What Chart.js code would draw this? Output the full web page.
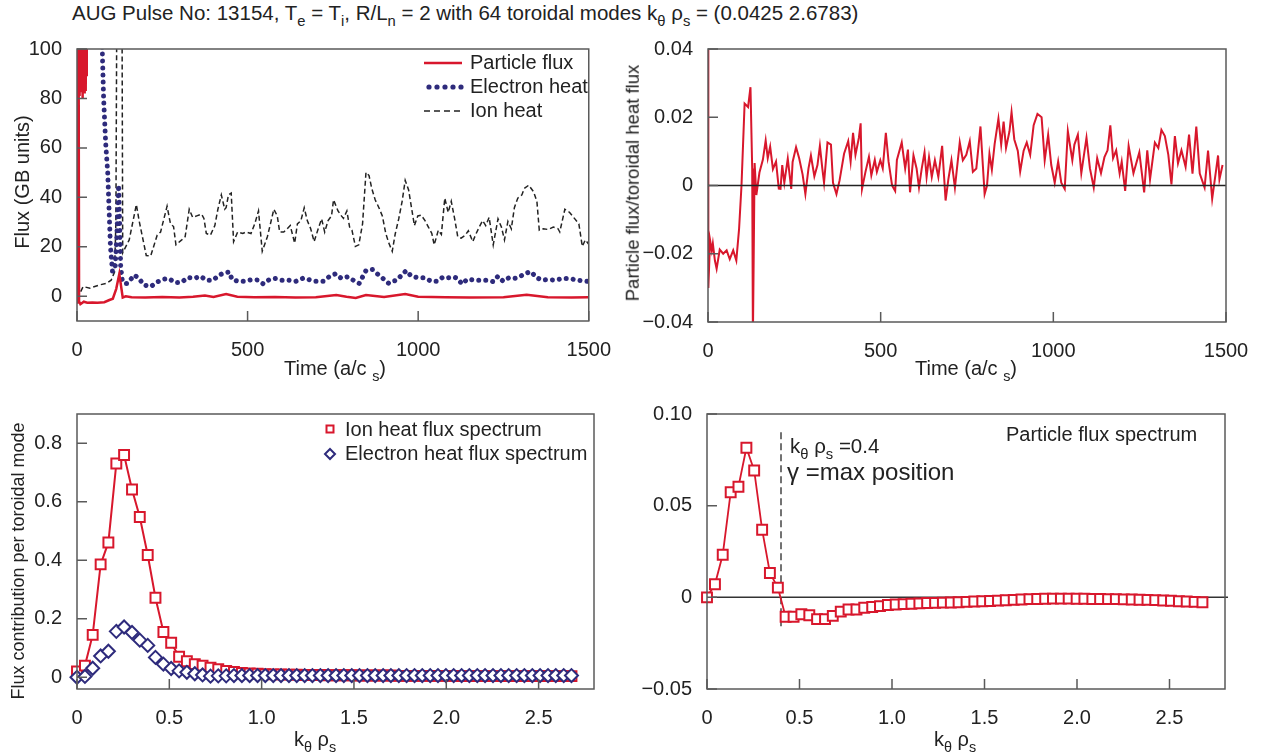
<!DOCTYPE html>
<html>
<head>
<meta charset="utf-8">
<script src="https://cdn.jsdelivr.net/npm/chart.js"></script>
<style>
  body { margin: 0; width: 1266px; height: 755px; position: relative; overflow: hidden; background: #fff;
         font-family: "Liberation Sans", Arial, sans-serif; color: #222; }
  canvas { position: absolute; }
  .lbl { position: absolute; white-space: nowrap; font-size: 20px; line-height: 1; }
  .xt { transform: translateX(-50%); }
  .yt { transform: translate(-50%, -50%) rotate(-90deg); }
  sub { font-size: 0.72em; vertical-align: -0.4em; line-height: 0; }
</style>
</head>
<body>
<div class="lbl" style="left:72px;top:3px;font-size:20.5px">AUG Pulse No: 13154, T<sub>e</sub> = T<sub>i</sub>, R/L<sub>n</sub> = 2 with 64 toroidal modes k<sub>θ</sub> ρ<sub>s</sub> = (0.0425 2.6783)</div>

<canvas id="cFlux" width="620" height="370" style="left:0;top:30px"></canvas>
<canvas id="cRatio" width="636" height="370" style="left:630px;top:30px"></canvas>
<canvas id="cHeat" width="620" height="360" style="left:0;top:395px"></canvas>
<canvas id="cPart" width="636" height="360" style="left:630px;top:395px"></canvas>

<div class="lbl yt" style="left:22px;top:182px">Flux (GB units)</div>
<div class="lbl xt" style="left:335px;top:358px">Time (a/c <sub>s</sub>)</div>
<div class="lbl yt" style="left:633px;top:183px;font-size:18.5px">Particle flux/toroidal heat flux</div>
<div class="lbl xt" style="left:966px;top:358px">Time (a/c <sub>s</sub>)</div>
<div class="lbl yt" style="left:18px;top:561px;font-size:18px">Flux contribution per toroidal mode</div>
<div class="lbl xt" style="left:315px;top:729px">k<sub>θ</sub> ρ<sub>s</sub></div>
<div class="lbl xt" style="left:955px;top:729px">k<sub>θ</sub> ρ<sub>s</sub></div>

<div class="lbl" style="left:790px;top:436px;font-size:20.5px">k<sub>θ</sub> ρ<sub>s</sub> =0.4</div>
<div class="lbl" style="left:787px;top:460px;font-size:24px">γ =max position</div>
<div class="lbl" style="left:1006px;top:424px;font-size:20px">Particle flux spectrum</div>

<script>
// ---- time traces (top left) ----
const pfTime = [0, 2, 3, 4, 5, 6, 7, 8, 9, 10, 11, 12, 13, 14, 15, 16, 17, 18, 19, 20, 21, 22, 23, 24, 25, 26, 27, 28, 29,
  5, 6, 10, 20, 30, 45, 60, 80, 95, 105, 115, 124, 134, 143,
  160, 200, 250, 300, 340, 375, 400, 437, 470, 520, 580, 640, 700, 760, 790, 817, 847, 900, 962, 1000, 1080, 1150, 1250, 1318, 1380, 1450, 1500];
const pfVal = [-1, -3, 130, 82, 150, 85, 140, 81, 125, 86, 145, 83, 135, 88, 150, 80, 120, 84, 140, 86, 130, 82, 145, 87, 125, 83, 135, 89, 115,
  82, -2, -3.2, -2.2, -2.6, -2.5, -2.6, -2.4, -1.5, -1.0, 3, 9, -0.5, 0,
  -0.4, -0.5, -0.3, -0.5, -0.2, 0.3, -0.3, 0.9, -0.2, -0.4, -0.3, -0.5, -0.4, 0.5, -0.2, -0.7, 0.5, -0.3, 0.9, -0.2, -0.4, -0.5, -0.4, 0.6, -0.4, -0.5, -0.4];

const ehTime = [60, 74, 78, 84, 90, 94, 98, 104, 112, 117, 122, 125, 128, 133, 139, 148, 168, 182, 195, 216,
  237, 254, 269, 288, 306, 325, 343, 362, 379, 399, 416, 431, 447, 454, 471, 491, 514, 529, 546, 564,
  582, 601, 620, 642, 664, 685, 700, 722, 738, 758, 775, 794, 810, 827, 847, 866, 880, 897, 914, 927,
  938, 951, 965, 980, 999, 1018, 1038, 1057, 1073, 1088, 1104, 1116, 1128, 1145, 1165, 1184, 1203, 1220, 1234, 1249,
  1266, 1280, 1293, 1312, 1330, 1348, 1365, 1381, 1402, 1423, 1444, 1465, 1490, 1500];
const ehVal = [200, 100, 80, 62, 50, 35, 20, 10, 12, 25, 45, 30, 12, 6, 5.2, 5.2, 8.6, 7.2, 4.6, 3.9,
  5.9, 6.9, 7.2, 5.5, 5.6, 7.6, 7.2, 8.1, 6.5, 6.5, 8.5, 9.5, 9.8, 6.8, 6.1, 6.1, 6.8, 6.6, 5.0, 6.8,
  7.2, 6.5, 6.5, 6.1, 7.4, 6.5, 6.1, 6.1, 7.8, 9.1, 7.2, 7.9, 6.5, 5.2, 10.4, 10.8, 9.1, 7.2, 5.2, 6.1,
  6.5, 8.5, 10.4, 8.1, 7.5, 7.5, 6.1, 6.1, 7.8, 7.5, 7.8, 7.2, 5.0, 7.0, 6.5, 6.5, 6.5, 5.9, 8.1, 6.1,
  7.5, 7.2, 7.5, 9.1, 10.0, 7.4, 6.5, 6.8, 6.5, 7.2, 7.2, 6.5, 6.1, 6.0];

const ihTime = [0, 4, 18, 38, 66, 86, 100, 110, 114, 118, 131, 134, 153, 174, 182, 203, 216, 235, 245, 264,
  274, 283, 290, 307, 317, 329, 339, 351, 365, 372, 379, 391, 404, 413, 423, 433, 437, 444, 452, 459,
  471, 486, 495, 510, 521, 532, 543, 558, 567, 577, 587, 594, 606, 616, 625, 638, 646, 656, 666, 675,
  685, 695, 707, 717, 726, 736, 746, 752, 765, 775, 781, 791, 799, 806, 816, 826, 837, 847, 856, 864,
  874, 885, 895, 905, 914, 924, 933, 943, 953, 962, 972, 982, 989, 999, 1009, 1020, 1030, 1040, 1047, 1059,
  1068, 1078, 1088, 1097, 1107, 1116, 1126, 1138, 1147, 1160, 1170, 1179, 1189, 1198, 1208, 1220, 1234, 1244, 1253, 1263,
  1273, 1282, 1292, 1304, 1311, 1324, 1338, 1348, 1355, 1367, 1381, 1396, 1410, 1415, 1430, 1444, 1458, 1471, 1481, 1490, 1500];
const ihVal = [-1, 0, 3.9, 3.3, 4.6, 5.2, 6.5, 9.8, 30, 160, 160, 17.6, 22.8, 37.1, 30.6, 16.5, 16.3, 24.7, 26, 36.4,
  29.3, 28.2, 20.8, 22.8, 24.1, 35.2, 31.9, 32.5, 33.2, 31.5, 25.4, 24.7, 28.6, 35.2, 41, 35.2, 35.8, 41, 41.7, 22.1,
  26, 25.4, 26, 25.4, 29.3, 34.5, 18.2, 24.1, 29.3, 35.2, 32.5, 26, 26, 27.3, 28.6, 21.5, 29.3, 30.5, 35.8, 30.6,
  27.3, 22.1, 27.3, 31.3, 26, 30.6, 32.5, 39, 34.5, 32.5, 31.5, 34.5, 28, 26.7, 20.2, 20.8, 29.3, 50.1, 48.8, 43.6,
  39, 35.8, 32.5, 25.4, 21.5, 18.2, 25.4, 31.3, 38.4, 46.9, 43, 34.5, 28.6, 32.5, 32.8, 30.6, 28, 25.4, 20.8, 26.7,
  25, 39.7, 33.9, 38.4, 31.3, 24.1, 23.5, 24.7, 26.5, 22.1, 25.4, 28, 30.6, 28.6, 31.9, 20.8, 31.3, 28, 22.8, 30.3,
  27.3, 35.8, 39.7, 41, 43.6, 44.9, 42.3, 38.4, 26.7, 27.3, 27, 28, 27.3, 26, 35.2, 33.9, 31.5, 29.3, 20.2, 22.8, 21];

// ---- particle flux / toroidal heat flux (top right) ----
const ratioTime = [0, 1, 6, 11, 14, 20, 25, 34, 44, 54, 63, 73, 82, 90, 97, 106, 116, 123, 128, 130,
  135, 140, 149, 159, 167, 173, 180, 188, 197, 205, 210, 215, 221, 231, 241, 245, 255, 264, 274, 282,
  291, 298, 308, 317, 324, 331, 336, 346, 356, 362, 372, 381, 394, 406, 413, 420, 427, 437, 442, 446,
  456, 466, 473, 483, 489, 499, 506, 515, 523, 533, 542, 547, 561, 571, 579, 585, 595, 604, 611, 619,
  627, 633, 640, 648, 657, 667, 678, 688, 696, 705, 715, 729, 738, 748, 758, 767, 777, 789, 801, 808,
  815, 822, 830, 841, 849, 856, 863, 873, 879, 887, 897, 904, 914, 923, 933, 943, 954, 966, 975, 985,
  994, 1004, 1014, 1023, 1033, 1042, 1055, 1061, 1071, 1081, 1096, 1106, 1117, 1127, 1138, 1148, 1157, 1165, 1173, 1182,
  1192, 1198, 1208, 1218, 1232, 1249, 1263, 1272, 1280, 1294, 1304, 1313, 1323, 1333, 1342, 1352, 1361, 1371, 1383, 1393,
  1403, 1414, 1424, 1438, 1448, 1460, 1472, 1477, 1481, 1490];
const ratioVal = [0.04, -0.03, -0.016, -0.019, -0.017, -0.022, -0.0244, -0.0188, -0.020, -0.019,
  -0.0216, -0.019, -0.022, -0.0127, 0, 0.024, 0.023, 0.0288, 0.005, -0.045,
  0.0066, -0.0028, 0.0038, 0.0076, 0.0132, 0.008, 0.0114, 0.0048, 0.007, -0.0009,
  -0.001, 0.006, 0.0008, 0.0079, -0.001, 0.0069, 0.0112, 0.008, 0.0032, -0.0025,
  0.005, 0.0088, 0.0027, 0.006, 0.0116, 0.005, 0.0008, 0.0126, 0.012, 0.0008,
  -0.0025, 0.0015, 0.0093, 0.013, 0.007, 0.0154, 0.009, 0.014, 0.0182, -0.001,
  0.004, 0.0084, 0.003, 0.0075, 0.004, 0.0074, 0.005, 0.0154, 0.0069, 0,
  -0.0016, 0.0075, 0.0126, 0.005, 0.0105, -0.002, 0.0088, 0.005, -0.0006, 0.005,
  0.0097, 0.0025, 0.0083, 0.0025, 0.0074, 0.0025, 0.0116, -0.0044, 0.0018, 0.0074,
  -0.0006, 0.0126, 0.0074, 0.009, 0.013, 0.004, 0.005, 0.0173, -0.0025, 0,
  0.0093, 0.0046, 0.0121, 0.0196, 0.012, 0.0187, 0.011, 0.0159, 0.0215, 0.0135,
  0.0102, 0.0041, 0.0102, 0.0126, 0.009, 0.0177, 0.021, 0.02, 0.0074, 0.0149,
  0.006, 0.0008, 0.007, 0.0008, -0.001, 0.0159, 0.0074, 0.012, 0.0149, 0.0036,
  0.014, 0.005, -0.0006, 0.008, 0.0036, 0.0083, 0.0103, 0.0176, 0.008, 0.0103,
  0.0035, 0.007, -0.0016, 0.0116, 0.0036, 0.0097, -0.002, 0.0103, 0.0018, 0.0126,
  0.011, 0.0163, 0.0145, 0.009, 0.0003, 0.0145, 0.0065, 0.0103, 0.0055, 0.0149,
  0.0035, 0.0173, 0.0035, -0.0006, 0.0102, -0.0039, 0.005, 0.0088, 0.0018, 0.006];

// ---- spectra over the 64 toroidal modes (bottom) ----
const kRho = [0, 0.043, 0.085, 0.128, 0.170, 0.213, 0.255, 0.298, 0.340, 0.383,
  0.425, 0.468, 0.510, 0.553, 0.595, 0.638, 0.680, 0.723, 0.765, 0.808,
  0.850, 0.893, 0.935, 0.978, 1.020, 1.063, 1.105, 1.148, 1.190, 1.233,
  1.275, 1.318, 1.360, 1.403, 1.445, 1.488, 1.530, 1.573, 1.615, 1.658,
  1.700, 1.743, 1.785, 1.828, 1.870, 1.913, 1.955, 1.998, 2.040, 2.083,
  2.125, 2.168, 2.210, 2.253, 2.296, 2.338, 2.381, 2.423, 2.466, 2.508,
  2.551, 2.593, 2.636, 2.678];
const ionSpec = [0.02, 0.04, 0.145, 0.386, 0.461, 0.731, 0.760, 0.642, 0.548, 0.418,
  0.272, 0.155, 0.118, 0.070, 0.055, 0.045, 0.040, 0.033, 0.028, 0.022,
  0.018, 0.015, 0.013, 0.012, 0.011, 0.010, 0.010, 0.009, 0.009, 0.008,
  0.008, 0.008, 0.007, 0.007, 0.007, 0.007, 0.006, 0.006, 0.006, 0.006,
  0.006, 0.005, 0.005, 0.005, 0.005, 0.005, 0.005, 0.005, 0.005, 0.004,
  0.004, 0.004, 0.004, 0.004, 0.004, 0.004, 0.004, 0.004, 0.004, 0.004,
  0.004, 0.004, 0.004, 0.004];
const elecSpec = [0.0, 0.003, 0.031, 0.073, 0.089, 0.157, 0.172, 0.153, 0.127, 0.109,
  0.068, 0.045, 0.030, 0.022, 0.017, 0.012, 0.008, 0.004, 0.005, 0.005,
  0.006, 0.006, 0.006, 0.006, 0.006, 0.006, 0.006, 0.006, 0.006, 0.006,
  0.006, 0.006, 0.006, 0.006, 0.006, 0.006, 0.006, 0.006, 0.006, 0.006,
  0.006, 0.006, 0.006, 0.006, 0.006, 0.006, 0.006, 0.006, 0.006, 0.006,
  0.006, 0.006, 0.006, 0.006, 0.006, 0.006, 0.006, 0.006, 0.006, 0.006,
  0.006, 0.006, 0.006, 0.006];
const partSpec = [0.000, 0.0071, 0.0232, 0.0573, 0.0603, 0.0816, 0.0692, 0.0369, 0.0133, 0.0053,
  -0.0106, -0.0106, -0.0092, -0.0098, -0.0119, -0.0119, -0.0101, -0.0078, -0.0066, -0.0066,
  -0.0057, -0.0053, -0.0048, -0.0042, -0.0039, -0.0037, -0.0035, -0.0033, -0.0031, -0.0030,
  -0.0029, -0.0028, -0.0027, -0.0025, -0.0023, -0.0021, -0.0020, -0.0018, -0.0016, -0.0014,
  -0.0012, -0.0010, -0.0009, -0.0008, -0.0007, -0.0007, -0.0007, -0.0008, -0.0008, -0.0009,
  -0.0009, -0.0010, -0.0010, -0.0011, -0.0012, -0.0013, -0.0014, -0.0015, -0.0017, -0.0019,
  -0.0021, -0.0023, -0.0025, -0.0027];
const gammaMaxK = 0.4;
const gammaMarkSpan = [-0.018, 0.09];

// ---- tick positions ----
const timeTicks = [0, 500, 1000, 1500];
const fluxTicks = [0, 20, 40, 60, 80, 100];
const ratioTicks = [-0.04, -0.02, 0, 0.02, 0.04];
const kTicks = [0, 0.5, 1.0, 1.5, 2.0, 2.5];
const heatTicks = [0, 0.2, 0.4, 0.6, 0.8];
const partTicks = [-0.05, 0, 0.05, 0.10];

const FONT = '"Liberation Sans", Arial, sans-serif';
const RED = '#d8172c', NAVY = '#2e2b7c', INK = '#222';

const pts = (xs, ys) => xs.map((x, i) => ({ x, y: ys[i] }));
const minus = s => s.replace('-', '\u2212');

function axis(min, max, ticks, size, fmt, isX) {
  return {
    type: 'linear', min, max,
    afterBuildTicks: s => { s.ticks = ticks.map(v => ({ value: v })); },
    afterFit: s => { if (isX) s.height = size; else s.width = size; },
    grid: { display: false },
    border: { display: false },
    ticks: { padding: isX ? 9 : 7, color: INK, font: { family: FONT, size: 20 },
             maxRotation: 0, autoSkip: false, callback: fmt }
  };
}

// frame, inward ticks, zero line and legend drawn by hand
const frame = {
  id: 'frame',
  beforeDatasetsDraw(chart, args, o) {
    const { ctx, chartArea: c, scales: { x, y } } = chart;
    ctx.save();
    if (o.zero === 'under') {
      ctx.strokeStyle = '#333'; ctx.lineWidth = 1.5;
      ctx.beginPath();
      ctx.moveTo(c.left, y.getPixelForValue(0));
      ctx.lineTo(c.right + 3, y.getPixelForValue(0));
      ctx.stroke();
    }
    if (o.mark) {
      ctx.strokeStyle = '#444'; ctx.lineWidth = 1.5; ctx.setLineDash([7, 4]);
      const px = x.getPixelForValue(o.mark.k);
      ctx.beginPath();
      ctx.moveTo(px, y.getPixelForValue(o.mark.span[1]));
      ctx.lineTo(px, y.getPixelForValue(o.mark.span[0]));
      ctx.stroke();
    }
    ctx.restore();
  },
  afterDatasetsDraw(chart, args, o) {
    const { ctx, chartArea: c, scales: { x, y } } = chart;
    ctx.save();
    if (o.zero === 'over') {
      ctx.strokeStyle = '#222'; ctx.lineWidth = 1.5;
      ctx.beginPath();
      ctx.moveTo(c.left, y.getPixelForValue(0));
      ctx.lineTo(c.right, y.getPixelForValue(0));
      ctx.stroke();
    }
    ctx.strokeStyle = '#5a5a5a'; ctx.lineWidth = 1.5;
    ctx.strokeRect(c.left, c.top, c.right - c.left, c.bottom - c.top);
    ctx.beginPath();
    x.ticks.forEach(t => {
      const p = x.getPixelForValue(t.value);
      ctx.moveTo(p, c.bottom); ctx.lineTo(p, c.bottom - 10);
    });
    y.ticks.forEach(t => {
      const p = y.getPixelForValue(t.value);
      ctx.moveTo(c.left, p); ctx.lineTo(c.left + 10, p);
    });
    ctx.stroke();
    if (o.legend) {
      ctx.font = '20px ' + FONT; ctx.fillStyle = INK; ctx.textBaseline = 'middle';
      o.legend(ctx);
    }
    ctx.restore();
  }
};

function makeChart(id, datasets, xs, ys, pad, opts) {
  return new Chart(document.getElementById(id), {
    type: 'line',
    data: { datasets },
    options: {
      responsive: false, animation: false, devicePixelRatio: 1,
      layout: { padding: pad },
      elements: { point: { radius: 0 } },
      plugins: { legend: { display: false }, tooltip: { enabled: false }, frame: opts },
      scales: { x: xs, y: ys }
    },
    plugins: [frame]
  });
}

const fmtTime = v => String(v);
const fmtK = v => v === 0 ? '0' : v.toFixed(1);

// === top left: fluxes vs time ===
makeChart('cFlux', [
  { data: pts(pfTime, pfVal), borderColor: RED, borderWidth: 2.5, order: 1 },
  { data: pts(ehTime, ehVal), borderColor: NAVY, borderWidth: 5, borderDash: [0.01, 7],
    borderCapStyle: 'round', order: 2 },
  { data: pts(ihTime, ihVal), borderColor: '#222', borderWidth: 1.5, borderDash: [5, 3], order: 3 }
], axis(0, 1500, timeTicks, 79, fmtTime, true),
   axis(-10, 100, fluxTicks, 77, v => String(v), false),
   { top: 9, right: 25, left: 0, bottom: 0 },
   { legend(ctx) {
       ctx.strokeStyle = RED; ctx.lineWidth = 2.5;
       ctx.beginPath(); ctx.moveTo(424, 33); ctx.lineTo(462, 33); ctx.stroke();
       ctx.fillStyle = NAVY;
       for (let i = 0; i < 5; i++) { ctx.beginPath(); ctx.arc(429 + i * 8, 57, 2.6, 0, Math.PI * 2); ctx.fill(); }
       ctx.strokeStyle = '#222'; ctx.lineWidth = 1.5; ctx.setLineDash([6, 4]);
       ctx.beginPath(); ctx.moveTo(424, 81); ctx.lineTo(462, 81); ctx.stroke();
       ctx.setLineDash([]);
       ctx.fillStyle = INK;
       ctx.fillText('Particle flux', 470, 33);
       ctx.fillText('Electron heat', 470, 57);
       ctx.fillText('Ion heat', 470, 81);
     } });

// === top right: particle flux / toroidal heat flux ===
makeChart('cRatio', [
  { data: pts(ratioTime, ratioVal), borderColor: RED, borderWidth: 2 }
], axis(0, 1500, timeTicks, 78, fmtTime, true),
   axis(-0.04, 0.04, ratioTicks, 78, v => v === 0 ? '0' : minus(v.toFixed(2)), false),
   { top: 9, right: 40, left: 0, bottom: 0 },
   { zero: 'over' });

// === bottom left: heat flux spectra ===
makeChart('cHeat', [
  { data: pts(kRho, ionSpec), borderColor: RED, borderWidth: 2, pointStyle: 'rect', pointRadius: 7,
    pointBorderWidth: 2, pointBorderColor: RED, pointBackgroundColor: '#fff', clip: false, order: 2 },
  { data: pts(kRho, elecSpec), showLine: false, pointStyle: 'rectRot', pointRadius: 6.5,
    pointBorderWidth: 2, pointBorderColor: NAVY, pointBackgroundColor: '#fff', clip: false, order: 1 }
], axis(0, 2.8, kTicks, 66, fmtK, true),
   axis(-0.04, 0.9, heatTicks, 77, v => v === 0 ? '0' : v.toFixed(1), false),
   { top: 13, right: 26, left: 0, bottom: 0 },
   { legend(ctx) {
       ctx.strokeStyle = RED; ctx.lineWidth = 2;
       ctx.strokeRect(326.5, 30.5, 7, 7);
       ctx.strokeStyle = NAVY;
       ctx.beginPath(); ctx.moveTo(330, 54); ctx.lineTo(335, 59); ctx.lineTo(330, 64); ctx.lineTo(325, 59); ctx.closePath(); ctx.stroke();
       ctx.fillText('Ion heat flux spectrum', 345, 35);
       ctx.fillText('Electron heat flux spectrum', 345, 59);
     } });

// === bottom right: particle flux spectrum ===
makeChart('cPart', [
  { data: pts(kRho, partSpec), borderColor: RED, borderWidth: 1.8, pointStyle: 'rect', pointRadius: 7,
    pointBorderWidth: 2, pointBorderColor: RED, pointBackgroundColor: '#fff', clip: false }
], axis(0, 2.8, kTicks, 66, fmtK, true),
   axis(-0.05, 0.10, partTicks, 77, v => v === 0 ? '0' : minus(v.toFixed(2)), false),
   { top: 13, right: 41, left: 0, bottom: 0 },
   { zero: 'under', mark: { k: gammaMaxK, span: gammaMarkSpan } });
</script>
</body>
</html>
